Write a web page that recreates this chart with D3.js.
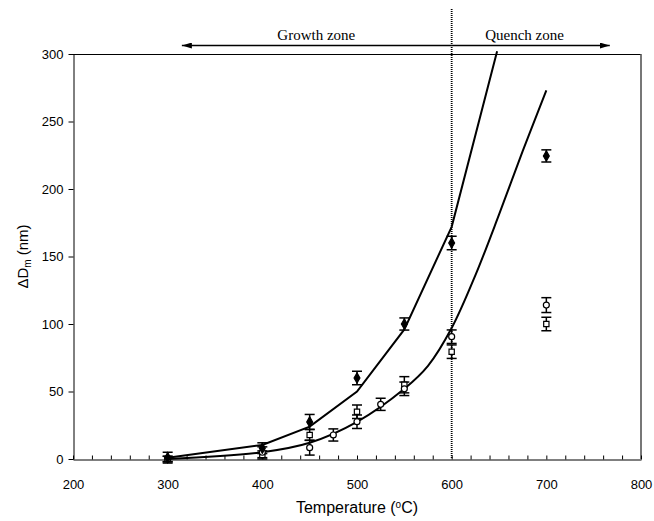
<!DOCTYPE html>
<html>
<head>
<meta charset="utf-8">
<script src="https://cdn.jsdelivr.net/npm/d3@7"></script>
<style>
  body { margin: 0; background: #fff; }
  text { fill: #000; }
</style>
</head>
<body>
<div id="chart"></div>
<script>
// measured series (temperature in C, size change in nm, error half-width)
var diamondT   = [300, 400, 450, 500, 550, 600, 700];
var diamondD   = [1, 8, 27.5, 60, 100, 160, 224.5];
var diamondErr = [4, 4, 5.5, 5, 4.5, 5, 4.5];

var squareT   = [300, 400, 450, 500, 550, 600, 700];
var squareD   = [0, 3, 17.8, 35, 55, 79.5, 100];
var squareErr = [2, 3, 4, 5, 6, 5, 5];

var circleT   = [300, 400, 450, 475, 500, 525, 550, 600, 700];
var circleD   = [0, 5, 8.4, 17.8, 27.6, 40.5, 52, 90.6, 114];
var circleErr = [2, 4, 5.5, 4.5, 5, 4.5, 5, 5, 5.5];

// model curves
var upperT = [300, 400, 450, 500, 550, 600, 648];
var upperD = [1, 10.4, 24, 50, 96, 172, 302];
var lowerT = [300, 400, 450, 500, 550, 575, 600, 625, 650, 675, 700];
var lowerD = [0, 5, 12, 27.5, 52, 69, 97, 136, 181, 228, 273];

// annotations
var zoneSplit = 600;
var zoneArrow = [315, 767];
var zoneLabels = [{text: "Growth zone", t: 457}, {text: "Quench zone", t: 677}];

var xTicks = d3.range(200, 801, 20);
var yTicks = [0, 50, 100, 150, 200, 250, 300];

var W = 654, H = 521;
var pLeft = 73, pRight = 641, pTop = 54, pBottom = 459;

var svg = d3.select("#chart")
  .append("svg")
    .attr("width", W)
    .attr("height", H)
    .style("font-family", "'Liberation Sans', Arial, sans-serif");

var x = d3.scaleLinear().domain([200, 800]).range([pLeft, pRight]);
var y = d3.scaleLinear().domain([0, 300]).range([pBottom, pTop]);

function zip(ts, ds, es) {
  return ts.map(function(t, i) { return {t: t, d: ds[i], e: es ? es[i] : 0}; });
}
var diamonds = zip(diamondT, diamondD, diamondErr);
var squares  = zip(squareT, squareD, squareErr);
var circles  = zip(circleT, circleD, circleErr);

// plot frame: top black, right grey
svg.append("line")
  .attr("x1", pLeft).attr("x2", pRight).attr("y1", pTop + 0.5).attr("y2", pTop + 0.5)
  .attr("stroke", "#000").attr("stroke-width", 1);
svg.append("line")
  .attr("x1", pRight).attr("x2", pRight).attr("y1", pTop).attr("y2", pBottom)
  .attr("stroke", "#555").attr("stroke-width", 1.6);

// axes
var xAxis = svg.append("g")
  .attr("transform", "translate(0," + (pBottom + 0.5) + ")")
  .call(d3.axisBottom(x)
    .tickValues(xTicks)
    .tickSizeInner(-4)
    .tickSizeOuter(0)
    .tickPadding(20)
    .tickFormat(function(d) { return d % 100 === 0 ? d : ""; }));
xAxis.selectAll("text").style("font-size", "13px");

var yAxis = svg.append("g")
  .attr("transform", "translate(" + (pLeft + 0.5) + ",0)")
  .call(d3.axisLeft(y)
    .tickValues(yTicks)
    .tickSizeInner(5)
    .tickSizeOuter(0)
    .tickPadding(5));
yAxis.selectAll("text").style("font-size", "13px");
svg.selectAll(".domain, .tick line").attr("stroke", "#000");

// axis titles
var xt = svg.append("text")
  .attr("x", (pLeft + pRight) / 2)
  .attr("y", 513)
  .attr("text-anchor", "middle")
  .style("font-size", "16px")
  .text("Temperature (");
xt.append("tspan").attr("baseline-shift", "super").style("font-size", "10px").text("o");
xt.append("tspan").text("C)");

var yt = svg.append("text")
  .attr("transform", "translate(28," + ((pTop + pBottom) / 2) + ")rotate(-90)")
  .attr("text-anchor", "middle")
  .style("font-size", "15px")
  .text("\u0394D");
yt.append("tspan").attr("dy", 3).style("font-size", "10px").text("m");
yt.append("tspan").attr("dy", -3).text(" (nm)");

// zone divider (dotted)
svg.append("line")
  .attr("x1", x(zoneSplit)).attr("x2", x(zoneSplit))
  .attr("y1", 9).attr("y2", pBottom)
  .attr("stroke", "#000").attr("stroke-width", 1.8)
  .attr("stroke-dasharray", "1,1");

// zone arrow
svg.append("defs").selectAll("marker")
  .data(["a-start", "a-end"])
  .enter()
  .append("marker")
    .attr("id", function(d) { return d; })
    .attr("viewBox", "0 0 10 6")
    .attr("refX", function(d) { return d === "a-end" ? 10 : 0; })
    .attr("refY", 3)
    .attr("markerWidth", 10)
    .attr("markerHeight", 6)
    .attr("markerUnits", "userSpaceOnUse")
    .attr("orient", "auto")
  .append("path")
    .attr("d", function(d) { return d === "a-end" ? "M0,0L10,3L0,6Z" : "M10,0L0,3L10,6Z"; })
    .attr("fill", "#000");

svg.append("line")
  .attr("x1", x(zoneArrow[0])).attr("x2", x(zoneArrow[1]))
  .attr("y1", 45.5).attr("y2", 45.5)
  .attr("stroke", "#000").attr("stroke-width", 1.3)
  .attr("marker-start", "url(#a-start)")
  .attr("marker-end", "url(#a-end)");

svg.selectAll("zonelabels")
  .data(zoneLabels)
  .enter()
  .append("text")
    .attr("x", function(d) { return x(d.t); })
    .attr("y", 40)
    .attr("text-anchor", "middle")
    .style("font-family", "'Liberation Serif', 'Times New Roman', serif")
    .style("font-size", "15px")
    .text(function(d) { return d.text; });

// model curves
var line = d3.line()
  .x(function(d) { return x(d.t); })
  .y(function(d) { return y(d.d); });

svg.append("path")
  .datum(zip(upperT, upperD))
  .attr("d", line)
  .attr("fill", "none")
  .attr("stroke", "#000")
  .attr("stroke-width", 2);

svg.append("path")
  .datum(zip(lowerT, lowerD))
  .attr("d", line.curve(d3.curveCatmullRom))
  .attr("fill", "none")
  .attr("stroke", "#000")
  .attr("stroke-width", 2);

// error bars
function errorBars(data) {
  var g = svg.append("g").attr("stroke", "#000").attr("stroke-width", 1.5);
  g.selectAll("line.v")
    .data(data).enter().append("line")
      .attr("x1", function(d) { return x(d.t); })
      .attr("x2", function(d) { return x(d.t); })
      .attr("y1", function(d) { return y(d.d + d.e); })
      .attr("y2", function(d) { return y(d.d - d.e); });
  g.selectAll("line.top")
    .data(data).enter().append("line")
      .attr("x1", function(d) { return x(d.t) - 5; })
      .attr("x2", function(d) { return x(d.t) + 5; })
      .attr("y1", function(d) { return y(d.d + d.e); })
      .attr("y2", function(d) { return y(d.d + d.e); });
  g.selectAll("line.bot")
    .data(data).enter().append("line")
      .attr("x1", function(d) { return x(d.t) - 5; })
      .attr("x2", function(d) { return x(d.t) + 5; })
      .attr("y1", function(d) { return y(d.d - d.e); })
      .attr("y2", function(d) { return y(d.d - d.e); });
}
errorBars(diamonds);
errorBars(squares);
errorBars(circles);

// markers
function markers(data, type, size, filled) {
  svg.selectAll("m")
    .data(data)
    .enter()
    .append("path")
      .attr("transform", function(d) { return "translate(" + x(d.t) + "," + y(d.d) + ")"; })
      .attr("d", d3.symbol().type(type).size(size))
      .attr("fill", filled ? "#000" : "#fff")
      .attr("stroke", "#000")
      .attr("stroke-width", 1.2);
}
markers(squares, d3.symbolSquare, 28, false);
markers(circles, d3.symbolCircle, 28, false);
markers(diamonds, d3.symbolDiamond, 30, true);
</script>
</body>
</html>
